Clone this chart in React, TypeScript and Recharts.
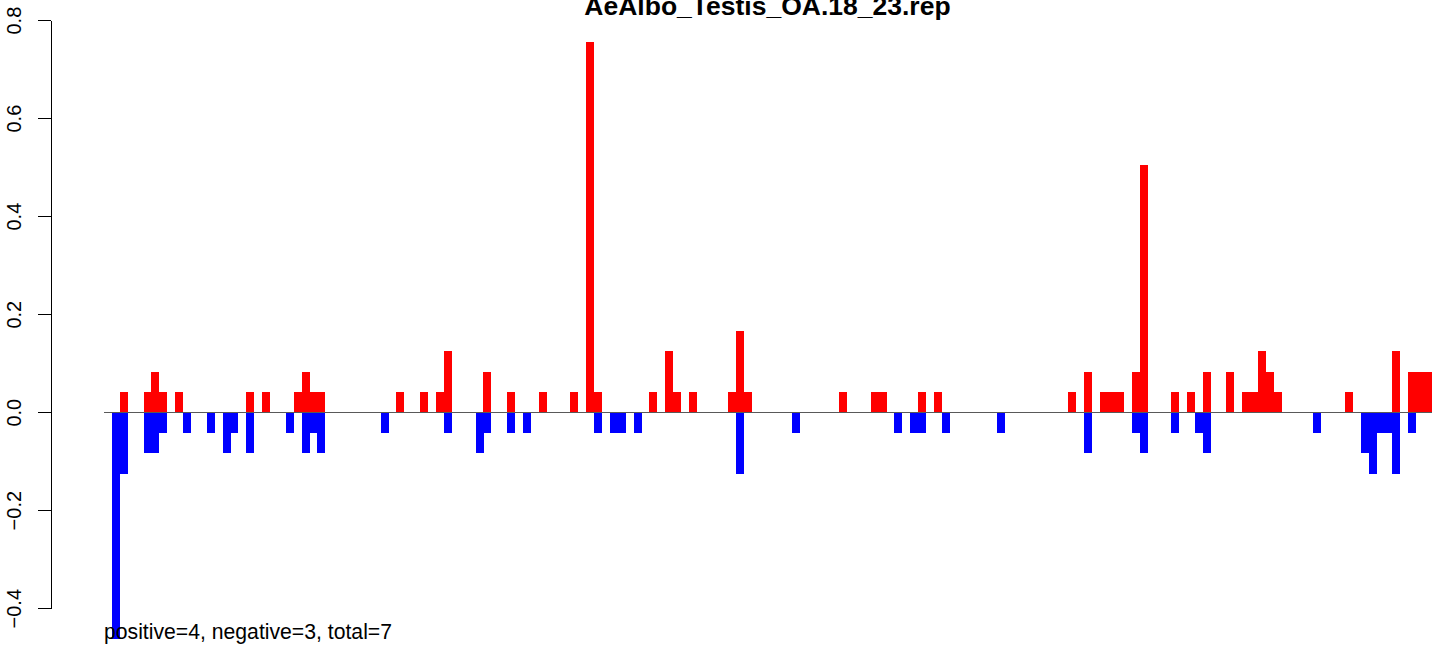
import React from 'react';
import { BarChart, Bar, XAxis, YAxis, ReferenceLine } from 'recharts';

const TITLE = 'AeAlbo_Testis_OA.18_23.rep';
const FOOTNOTE = 'positive=4, negative=3, total=7';
const SLOT_COUNT = 168;

// [slot, value] pairs, only the slots that carry a bar
const positive: [number, number][] = [
  [2, 0.042], [5, 0.042], [6, 0.083], [7, 0.042], [9, 0.042], [18, 0.042],
  [20, 0.042], [24, 0.042], [25, 0.083], [26, 0.042], [27, 0.042], [37, 0.042],
  [40, 0.042], [42, 0.042], [43, 0.125], [48, 0.083], [51, 0.042], [55, 0.042],
  [59, 0.042], [61, 0.756], [62, 0.042], [69, 0.042], [71, 0.125], [72, 0.042],
  [74, 0.042], [79, 0.042], [80, 0.167], [81, 0.042], [93, 0.042], [97, 0.042],
  [98, 0.042], [103, 0.042], [105, 0.042], [122, 0.042], [124, 0.083], [126, 0.042],
  [127, 0.042], [128, 0.042], [130, 0.083], [131, 0.505], [135, 0.042], [137, 0.042],
  [139, 0.083], [142, 0.083], [144, 0.042], [145, 0.042], [146, 0.125], [147, 0.083],
  [148, 0.042], [157, 0.042], [163, 0.125], [165, 0.083], [166, 0.083], [167, 0.083],
];

const negative: [number, number][] = [
  [1, -0.462], [2, -0.125], [5, -0.083], [6, -0.083], [7, -0.042], [10, -0.042],
  [13, -0.042], [15, -0.083], [16, -0.042], [18, -0.083], [23, -0.042], [25, -0.083],
  [26, -0.042], [27, -0.083], [35, -0.042], [43, -0.042], [47, -0.083], [48, -0.042],
  [51, -0.042], [53, -0.042], [62, -0.042], [64, -0.042], [65, -0.042], [67, -0.042],
  [80, -0.125], [87, -0.042], [100, -0.042], [102, -0.042], [103, -0.042], [106, -0.042],
  [113, -0.042], [124, -0.083], [130, -0.042], [131, -0.083], [135, -0.042], [138, -0.042],
  [139, -0.083], [153, -0.042], [159, -0.083], [160, -0.125], [161, -0.042], [162, -0.042],
  [163, -0.125], [165, -0.042],
];

const yTicks = [-0.4, -0.2, 0, 0.2, 0.4, 0.6, 0.8];
const yTickLabels = ['\u22120.4', '\u22120.2', '0.0', '0.2', '0.4', '0.6', '0.8'];

const FONT = '"Liberation Sans", Arial, Helvetica, sans-serif';

const posMap = new Map(positive);
const negMap = new Map(negative);
const data = Array.from({ length: SLOT_COUNT }, (_, i) => ({
  slot: i,
  pos: posMap.get(i) ?? 0,
  neg: negMap.get(i) ?? 0,
}));

function YTick(props: any) {
  const { x, y, payload } = props;
  const label = yTickLabels[yTicks.indexOf(payload.value)];
  return (
    <text
      transform={`translate(${x - 15.3},${y}) rotate(-90)`}
      textAnchor="middle"
      fontSize={20}
      fontFamily={FONT}
      fill="#000"
    >
      {label}
    </text>
  );
}

export default function App() {
  return (
    <div
      style={{
        position: 'absolute',
        left: 0,
        top: 0,
        width: 1441,
        height: 645,
        overflow: 'hidden',
        background: '#fff',
        shapeRendering: 'crispEdges',
      }}
    >
      <BarChart
        width={1441}
        height={645}
        data={data}
        stackOffset="sign"
        barCategoryGap={0}
        barGap={0}
        margin={{ top: 1, right: 9, bottom: 2, left: 0 }}
      >
        <XAxis dataKey="slot" hide padding={{ left: 53, right: 0 }} />
        {/* numeric helpers: one spanning the whole plot, one spanning the bars */}
        <XAxis
          xAxisId="frame"
          dataKey="slot"
          type="number"
          domain={['dataMin', 'dataMax']}
          hide
        />
        <XAxis
          xAxisId="span"
          dataKey="slot"
          type="number"
          domain={['dataMin', 'dataMax']}
          hide
          padding={{ left: 53, right: 0 }}
        />
        <YAxis
          type="number"
          width={51}
          domain={[-0.47, 0.84]}
          allowDataOverflow
          ticks={yTicks}
          interval={0}
          axisLine={false}
          tickLine={{ stroke: '#000', strokeWidth: 1 }}
          tickSize={13}
          tick={<YTick />}
        />
        <Bar dataKey="pos" stackId="s" fill="#FF0000" isAnimationActive={false} />
        <Bar dataKey="neg" stackId="s" fill="#0000FF" isAnimationActive={false} />
        <ReferenceLine
          xAxisId="span"
          segment={[{ x: 0, y: 0 }, { x: SLOT_COUNT - 1, y: 0 }]}
          stroke="#595959"
          strokeWidth={1}
        />
        <ReferenceLine
          xAxisId="frame"
          segment={[{ x: 0, y: -0.4 }, { x: 0, y: 0.8 }]}
          stroke="#000"
          strokeWidth={1}
        />
      </BarChart>
      <svg
        width={1441}
        height={645}
        style={{ position: 'absolute', left: 0, top: 0, pointerEvents: 'none' }}
      >
        <text
          x={767.5}
          y={15.3}
          textAnchor="middle"
          fontSize={26.5}
          fontWeight="bold"
          fontFamily={FONT}
          fill="#000"
        >
          {TITLE}
        </text>
        <text x={104} y={639} fontSize={21.2} fontFamily={FONT} fill="#000">
          {FOOTNOTE}
        </text>
      </svg>
    </div>
  );
}
